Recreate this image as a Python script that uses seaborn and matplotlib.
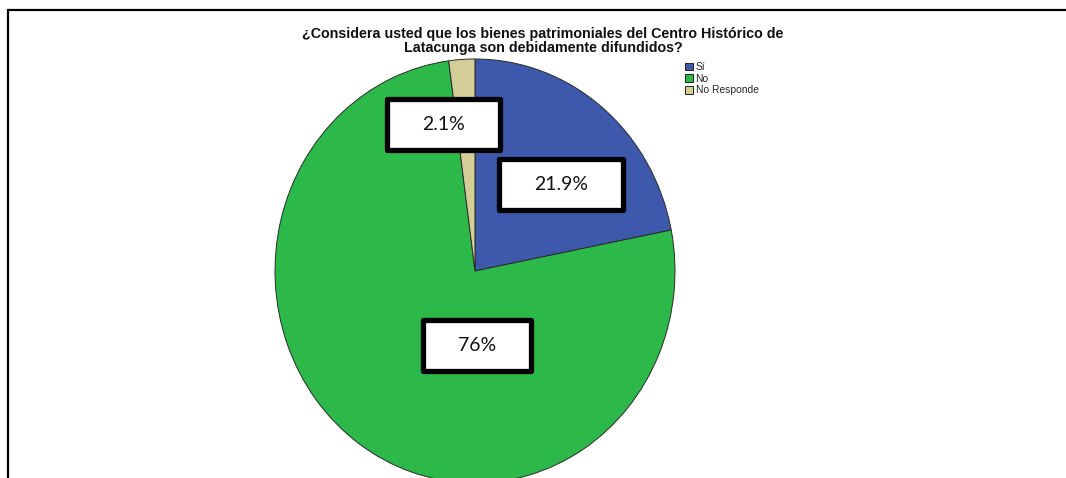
import matplotlib
matplotlib.use("Agg")
import matplotlib.pyplot as plt
from matplotlib.lines import Line2D
from matplotlib.patches import Patch
from matplotlib.offsetbox import AnnotationBbox, HPacker, TextArea, DrawingArea
import seaborn as sns

# ---- data ----
categories = ["Sí", "No", "No Responde"]
percentages = [21.9, 76.0, 2.1]
value_labels = ["21.9%", "76%", "2.1%"]
title_text = "¿Considera usted que los bienes patrimoniales del Centro Histórico de\nLatacunga son debidamente difundidos?"

# ---- style ----
sns.set_theme(style="white")
plt.rcParams['font.family'] = ['Liberation Sans', 'DejaVu Sans']
colors = ["#3E58AC", "#2DB84A", "#D3CE97"]

W, H = 1066, 478
fig = plt.figure(figsize=(W / 100, H / 100), dpi=100)
fig.patch.set_facecolor("white")

# pie axes (slightly elliptical, like the source)
cx, cy, rx, ry = 475, 271, 200, 212
ax = fig.add_axes([(cx - rx) / W, (H - (cy + ry)) / H, 2 * rx / W, 2 * ry / H])
wedges, _ = ax.pie(percentages, colors=colors, startangle=90, counterclock=False,
                   wedgeprops=dict(edgecolor="#2a2a2a", linewidth=0.7))
for w in wedges:
    w.set_clip_on(False)
ax.set_aspect("auto")
ax.set_xlim(-1, 1)
ax.set_ylim(-1, 1)
ax.axis("off")

# label boxes (manually placed as in the source)
label_pos = {"21.9%": (0.432, 0.41), "76%": (0.01, -0.35), "2.1%": (-0.157, 0.69)}
pt = 72 / 100  # points per pixel
for lab in value_labels:
    x, y = label_pos[lab]
    txt = TextArea(lab, textprops=dict(fontsize=14, family=["Lato", "DejaVu Sans"], color="#111111"))
    sp_l = DrawingArea(35 * pt, 51 * pt)
    sp_r = DrawingArea(35 * pt, 51 * pt)
    packed = HPacker(children=[sp_l, txt, sp_r], align="center", pad=0, sep=0)
    ab = AnnotationBbox(packed, (x, y), xycoords="data", frameon=True, pad=0,
                        box_alignment=(0.5, 0.5),
                        bboxprops=dict(boxstyle="square,pad=0", facecolor="white",
                                       edgecolor="black", linewidth=3.8, joinstyle="round"))
    ax.add_artist(ab)

# title
fig.text(543 / W, 1 - 41 / H, title_text, ha="center", va="center", fontsize=10.3,
         fontweight="bold", linespacing=0.95, color="#111111")

# legend
handles = [Patch(facecolor=c, edgecolor="#222222", linewidth=0.7) for c in colors]
fig.legend(handles, categories, loc="upper left", bbox_to_anchor=(685 / W, 1 - 62 / H),
           frameon=False, fontsize=7.4, handlelength=0.78, handleheight=0.78,
           handletextpad=0.25, labelspacing=0.17, borderpad=0, borderaxespad=0)

# frame lines (left and top)
fig.add_artist(Line2D([7.5 / W, 7.5 / W], [0, 1 - 10 / H], color="black", linewidth=1.6))
fig.add_artist(Line2D([7.5 / W, 1], [1 - 10 / H, 1 - 10 / H], color="black", linewidth=1.6))

fig.savefig("out.png", dpi=100, facecolor="white")
